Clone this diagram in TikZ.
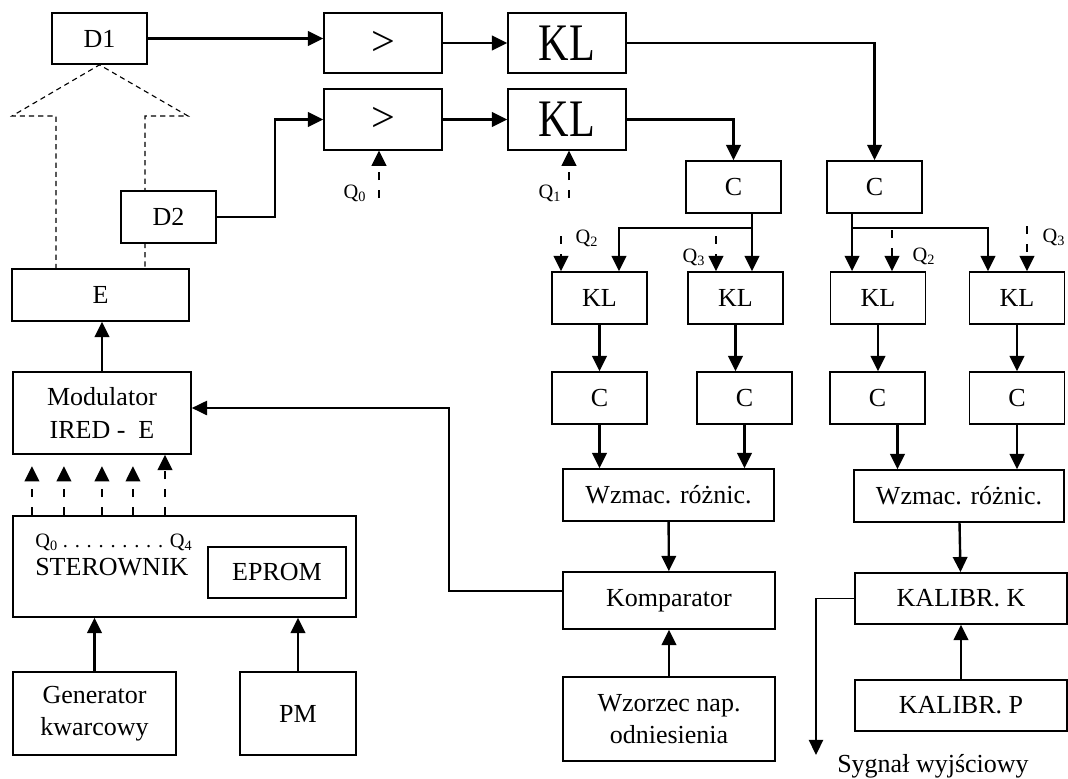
\documentclass[tikz,border=0pt]{standalone}
\usepackage{fontspec}
\setmainfont{Liberation Serif}
\usetikzlibrary{arrows.meta}

\begin{document}
\begin{tikzpicture}[x=0.025cm, y=-0.025cm]
\tikzstyle{block} = [rectangle, draw, line width=1.2pt, fill=white, inner sep=0pt,
    align=center, font=\fontsize{18.5}{23}\selectfont]
\tikzstyle{bigbox} = [block, minimum width=2.95cm, minimum height=1.51cm,
    font=\fontsize{30}{32}\selectfont]
\tikzstyle{smallbox} = [block, minimum width=2.375cm, minimum height=1.3cm]
\tikzstyle{widebox} = [block, minimum width=5.3cm, minimum height=1.3cm]
\tikzstyle{line} = [draw, -, line width=1pt]
\tikzstyle{arrow} = [draw, line width=1.7pt, -{Triangle[length=3.8mm,width=3.6mm]}]
\tikzstyle{thinarrow} = [arrow, line width=1pt]
\tikzstyle{qarrow} = [arrow, dash pattern=on 2mm off 2.5mm]
\tikzstyle{dline} = [draw, line width=0.8pt, dash pattern=on 1.3mm off 1mm]
\tikzstyle{qlabel} = [inner sep=0pt, font=\fontsize{14.5}{16}\selectfont]

\useasboundingbox (0,0) rectangle (1068,778);

\node [block, minimum width=2.375cm, minimum height=1.275cm] (d1) at (99.5,38.5) {D1};
\node [bigbox] (gt1) at (383,43) {>};
\node [bigbox, right of=gt1, node distance=4.6cm] (kl1) {\scalebox{1}[1.25]{KL}};
\node [bigbox] (gt2) at (383,119.5) {>};
\node [bigbox, right of=gt2, node distance=4.6cm] (kl2) {\scalebox{1}[1.25]{KL}};
\node [block, minimum width=4.425cm, minimum height=1.3cm] (e) at (100.5,295) {E};
%
\coordinate (eL) at (56,269);
\coordinate (eR) at (145,269);
\path [dline] (eL) -- (56,116) -- (12,116) -- (d1.south) -- (188,116) -- (145,116) -- (eR);
\node [smallbox] (d2) at (168.5,217) {D2};
%
\path [arrow] (d1.east) -- (d1.east -| gt1.west);
\path [arrow] (gt1) -- (kl1);
\coordinate (d2bend) at (275,217);
\path [arrow] (d2.east) -- (d2bend) |- (gt2.west);
\path [arrow] (gt2) -- (kl2);
%
\node [smallbox] (ca) at (733.5,187) {C};
\node [smallbox, right of=ca, node distance=3.525cm] (cb) {C};
\path [arrow] (kl1.east) -| (cb.north);
\path [arrow] (kl2.east) -| (ca.north);
%
\node [smallbox] (kla) at (599.5,298) {KL};
\node [smallbox] (klb) at (735.5,298) {KL};
\node [smallbox] (klc) at (878,298) {KL};
\node [smallbox] (kld) at (1017,298) {KL};
\coordinate (caout) at ([xshift=0.4625cm]ca.south);
\coordinate (cabr) at (619,228);
\path [arrow] (caout) -- (caout |- klb.north);
\path [arrow] (caout |- cabr) -| (kla.north -| cabr);
\coordinate (cbout) at ([xshift=-0.5625cm]cb.south);
\coordinate (cbbr) at (988,228);
\path [arrow] (cbout) -- (cbout |- klc.north);
\path [arrow] (cbout |- cbbr) -| (kld.north -| cbbr);
%
\coordinate (q0) at (379,198);
\path [qarrow] (q0) -- (q0 |- gt2.south);
\node [qlabel] (q0l) at (355,193) {Q\textsubscript{0}};
\coordinate (q1) at (569,198);
\path [qarrow] (q1) -- (q1 |- kl2.south);
\node [qlabel] (q1l) at (550,193) {Q\textsubscript{1}};
\coordinate (q2a) at (561,236);
\path [qarrow] (q2a) -- (q2a |- kla.north);
\node [qlabel] (q2al) at (587,238) {Q\textsubscript{2}};
\coordinate (q3a) at (716,236);
\path [qarrow] (q3a) -- (q3a |- klb.north);
\node [qlabel] (q3al) at (694,257) {Q\textsubscript{3}};
\coordinate (q2b) at (892,230);
\path [qarrow] (q2b) -- (q2b |- klc.north);
\node [qlabel] (q2bl) at (924,256) {Q\textsubscript{2}};
\coordinate (q3b) at (1027,226);
\path [qarrow] (q3b) -- (q3b |- kld.north);
\node [qlabel] (q3bl) at (1054,237) {Q\textsubscript{3}};
%
\node [smallbox] (cc) at (599.5,398) {C};
\node [smallbox] (cd) at (744.5,398) {C};
\node [smallbox] (ce) at (877.5,398) {C};
\node [smallbox] (cf) at (1017,398) {C};
\path [arrow] (kla) -- (cc);
\path [arrow] (klb.south) -- (klb.south |- cd.north);
\path [arrow] (klc.south) -- (klc.south |- ce.north);
\path [arrow] (kld.south) -- (kld.south |- cf.north);
%
\node [block, minimum width=5.275cm, minimum height=1.3cm] (wza) at (668.5,495) {Wzmac. różnic.};
\node [block, minimum width=5.25cm, minimum height=1.3cm] (wzb) at (959,496) {Wzmac. różnic.};
\path [arrow] (cc.south) -- (cc.south |- wza.north);
\path [arrow] (cd.south) -- (cd.south |- wza.north);
\coordinate (ceout) at ([xshift=0.5cm]ce.south);
\path [arrow] (ceout) -- (ceout |- wzb.north);
\path [arrow] (cf.south) -- (cf.south |- wzb.north);
%
\node [widebox, minimum height=1.425cm] (komp) at (669,600.5) {Komparator};
\node [widebox, minimum height=2.1cm] (wzor) at (669,719) {Wzorzec nap.\\odniesienia};
\path [arrow] (wza) -- (komp);
\path [arrow] (wzor) -- (komp);
%
\node [widebox, minimum height=1.275cm] (kalk) at (961,598.5) {KALIBR. K};
\node [widebox, minimum height=1.275cm] (kalp) at (961,705.5) {KALIBR. P};
\path [arrow] (wzb) -- (kalk);
\path [arrow] (kalp) -- (kalk);
\coordinate (outend) at (816,755);
\path [thinarrow] (kalk.west) -| (outend);
\node [anchor=base, font=\fontsize{18.5}{23}\selectfont, inner sep=0pt] (out) at (933,772) {Sygnał wyjściowy};
%
\node [block, minimum width=4.45cm, minimum height=2.05cm] (mod) at (102,413) {Modulator\\IRED -\ \ E};
\path [arrow] (mod.north) -- (mod.north |- e.south);
\coordinate (fb) at (449,408);
\path [thinarrow] ([yshift=0.24cm]komp.west) -| (fb) -- (fb -| mod.east);
%
\node [block, minimum width=8.575cm, minimum height=2.525cm] (ster) at (184.5,566.5) {};
\node [block, minimum width=3.45cm, minimum height=1.275cm] (eprom) at (277,572.5) {EPROM};
\node [qlabel, anchor=west] (qrange) at (35,542) {Q\textsubscript{0} . . . . . . . . . Q\textsubscript{4}};
\node [anchor=west, inner sep=0pt, font=\fontsize{18.5}{23}\selectfont] (stertxt) at (35,567) {STEROWNIK};
\path [qarrow] ([xshift=-3.8125cm]ster.north) -- ++(0,-49);
\path [qarrow] ([xshift=-3.0125cm]ster.north) -- ++(0,-49);
\path [qarrow] ([xshift=-2.0625cm]ster.north) -- ++(0,-49);
\path [qarrow] ([xshift=-1.2875cm]ster.north) -- ++(0,-49);
\path [qarrow] ([xshift=-0.4875cm]ster.north) -- ([xshift=-0.4875cm]ster.north |- mod.south);
%
\node [block, minimum width=4.075cm, minimum height=2.075cm] (gen) at (94.5,713.5) {Generator\\kwarcowy};
\node [block, minimum width=2.9cm, minimum height=2.075cm] (pm) at (298,713.5) {PM};
\path [arrow] (gen.north) -- (gen.north |- ster.south);
\path [arrow] (pm.north) -- (pm.north |- ster.south);

\end{tikzpicture}
\end{document}
